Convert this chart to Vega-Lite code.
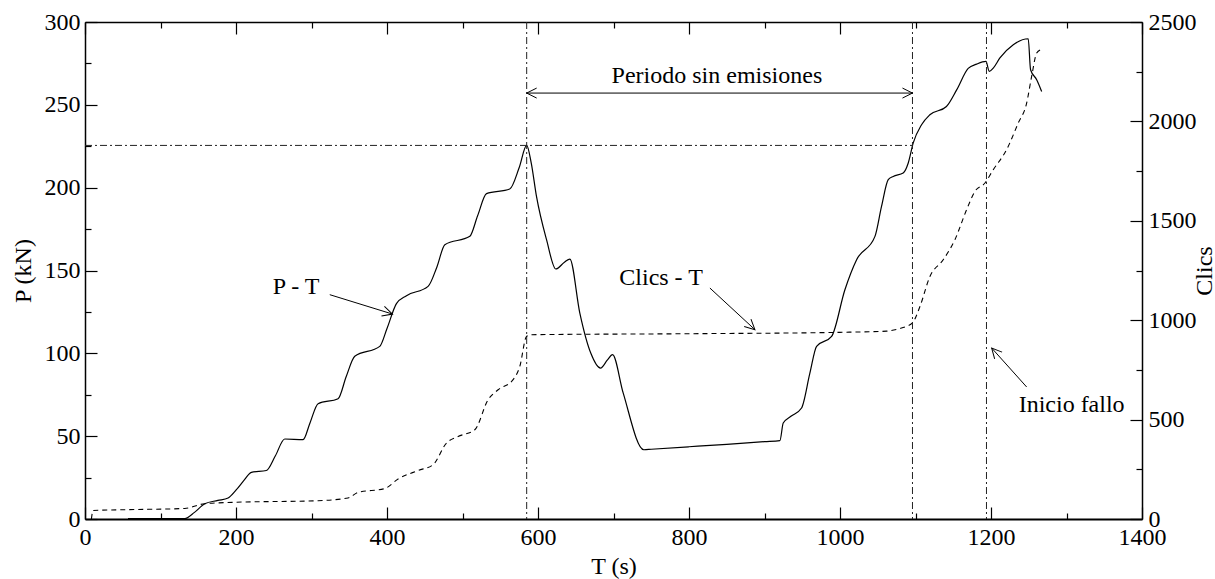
{
  "$schema": "https://vega.github.io/schema/vega-lite/v6.json",
  "width": 1057,
  "height": 497,
  "autosize": "none",
  "padding": {"left": 85, "top": 22, "right": 73, "bottom": 60},
  "background": "white",
  "config": {
    "font": "Liberation Serif, Times New Roman, Times, serif",
    "view": {"stroke": null},
    "axis": {
      "labelFont": "Liberation Serif, Times New Roman, Times, serif",
      "labelFontSize": 24,
      "labelColor": "black",
      "titleFont": "Liberation Serif, Times New Roman, Times, serif",
      "titleFontSize": 24,
      "titleFontWeight": "normal",
      "titleColor": "black",
      "tickColor": "black",
      "domainColor": "black",
      "grid": false,
      "labelFlush": false,
      "labelOverlap": false,
      "format": "d"
    }
  },
  "datasets": {
    "pt": [
      {"T": 57, "P": 0.3}, {"T": 100, "P": 0.3}, {"T": 132, "P": 0.3}, {"T": 145, "P": 4},
      {"T": 158.6, "P": 9.2}, {"T": 176, "P": 11.2}, {"T": 189.5, "P": 12.7}, {"T": 200.5, "P": 17.7},
      {"T": 210, "P": 23}, {"T": 220.4, "P": 28.1}, {"T": 240.3, "P": 29.3}, {"T": 252, "P": 38},
      {"T": 264.6, "P": 48.3}, {"T": 288.8, "P": 47.9}, {"T": 298, "P": 58}, {"T": 308.7, "P": 69.6},
      {"T": 335.2, "P": 72.6}, {"T": 346, "P": 86}, {"T": 357.3, "P": 98.2}, {"T": 390.4, "P": 104.2},
      {"T": 400, "P": 115}, {"T": 412.5, "P": 130}, {"T": 425.8, "P": 134.8}, {"T": 454.4, "P": 140.4},
      {"T": 466, "P": 152}, {"T": 476.6, "P": 165.6}, {"T": 509.7, "P": 170.6}, {"T": 520, "P": 183},
      {"T": 531.8, "P": 196.4}, {"T": 562.6, "P": 199.2}, {"T": 575, "P": 212}, {"T": 585, "P": 225.5},
      {"T": 591, "P": 215}, {"T": 598, "P": 194.7}, {"T": 611.3, "P": 168.6}, {"T": 623.6, "P": 150.9},
      {"T": 635, "P": 155}, {"T": 642.2, "P": 156.9}, {"T": 655.4, "P": 124.3}, {"T": 670, "P": 100},
      {"T": 682.8, "P": 91.1}, {"T": 692, "P": 96}, {"T": 698.7, "P": 99.2}, {"T": 712.8, "P": 76.1},
      {"T": 740.2, "P": 41.8}, {"T": 750, "P": 42.1}, {"T": 800, "P": 43.6}, {"T": 850, "P": 45.1},
      {"T": 900, "P": 46.7}, {"T": 920.4, "P": 47.3}, {"T": 924.8, "P": 57.9}, {"T": 935, "P": 62},
      {"T": 949.1, "P": 67}, {"T": 960.1, "P": 88}, {"T": 969, "P": 104.2}, {"T": 988.9, "P": 110.2},
      {"T": 1006.5, "P": 138.4}, {"T": 1022, "P": 156.5}, {"T": 1046.3, "P": 170.6}, {"T": 1055, "P": 188.7},
      {"T": 1063.9, "P": 204.8}, {"T": 1070.5, "P": 206.8}, {"T": 1083.7, "P": 208.8}, {"T": 1090.4, "P": 214.9},
      {"T": 1097, "P": 227}, {"T": 1108, "P": 238}, {"T": 1119, "P": 244}, {"T": 1141, "P": 249},
      {"T": 1154.5, "P": 259}, {"T": 1169.8, "P": 272}, {"T": 1181, "P": 274.6}, {"T": 1193.3, "P": 276.2},
      {"T": 1197.7, "P": 270.2}, {"T": 1203, "P": 272.2}, {"T": 1211.8, "P": 278.3}, {"T": 1229.5, "P": 286.3},
      {"T": 1249.3, "P": 289.9}, {"T": 1252.4, "P": 271.2}, {"T": 1260.5, "P": 265.2}, {"T": 1267.1, "P": 258.1}
    ],
    "clics": [
      {"T": 8.5, "C": 0}, {"T": 10.6, "C": 43}, {"T": 57, "C": 47}, {"T": 132, "C": 53},
      {"T": 158.6, "C": 77}, {"T": 198.3, "C": 84}, {"T": 308.7, "C": 92}, {"T": 348.4, "C": 106},
      {"T": 361.7, "C": 134}, {"T": 397, "C": 153}, {"T": 414.7, "C": 201}, {"T": 441.2, "C": 244},
      {"T": 461, "C": 273}, {"T": 478.8, "C": 382}, {"T": 494.2, "C": 415}, {"T": 516.3, "C": 449},
      {"T": 533.9, "C": 600}, {"T": 547.2, "C": 650}, {"T": 567, "C": 701}, {"T": 575.9, "C": 768},
      {"T": 584.8, "C": 918}, {"T": 591.4, "C": 927}, {"T": 800, "C": 932}, {"T": 1000, "C": 939},
      {"T": 1061.7, "C": 945}, {"T": 1079.3, "C": 958}, {"T": 1088, "C": 969}, {"T": 1096, "C": 986},
      {"T": 1105.9, "C": 1069}, {"T": 1119.1, "C": 1220}, {"T": 1136.7, "C": 1304}, {"T": 1152.2, "C": 1405},
      {"T": 1167.7, "C": 1556}, {"T": 1178.7, "C": 1648}, {"T": 1192, "C": 1690}, {"T": 1203, "C": 1757},
      {"T": 1220.7, "C": 1858}, {"T": 1236.1, "C": 1992}, {"T": 1247.2, "C": 2092}, {"T": 1253.8, "C": 2226},
      {"T": 1260.5, "C": 2344}, {"T": 1265.8, "C": 2361}
    ]
  },
  "layer": [
    {
      "data": {"name": "pt"},
      "mark": {"type": "line", "color": "black", "strokeWidth": 1.2, "interpolate": "monotone"},
      "encoding": {
        "x": {"field": "T", "type": "quantitative", "scale": {"domain": [0, 1400], "nice": false},
          "axis": {"orient": "bottom", "values": [0, 200, 400, 600, 800, 1000, 1200, 1400], "ticks": false, "labelPadding": 6, "domainWidth": 2, "title": "T (s)", "titlePadding": 5}},
        "y": {"field": "P", "type": "quantitative", "scale": {"domain": [0, 300], "nice": false},
          "axis": {"orient": "left", "values": [0, 50, 100, 150, 200, 250, 300], "ticks": false, "labelPadding": 5, "domainWidth": 1.5, "title": "P (kN)", "titlePadding": 9}}
      }
    },
    {
      "data": {"name": "clics"},
      "mark": {"type": "line", "color": "black", "strokeWidth": 1.1, "strokeDash": [5, 4], "interpolate": "monotone"},
      "encoding": {
        "x": {"field": "T", "type": "quantitative",
          "axis": {"orient": "top", "values": [0, 200, 400, 600, 800, 1000, 1200, 1400], "labels": false, "tickSize": -12, "tickWidth": 1.2, "domainWidth": 1.5, "title": null}},
        "y": {"field": "C", "type": "quantitative", "scale": {"domain": [0, 2500], "nice": false},
          "axis": {"orient": "right", "values": [0, 500, 1000, 1500, 2000, 2500], "ticks": false, "labelPadding": 6, "domainWidth": 1.5, "title": "Clics", "titleAngle": 270, "titlePadding": 20}}
      }
    },
    {
      "data": {"name": "pt"},
      "mark": {"type": "point", "opacity": 0},
      "encoding": {
        "x": {"field": "T", "type": "quantitative",
          "axis": {"orient": "bottom", "values": [0, 200, 400, 600, 800, 1000, 1200, 1400], "labels": false, "domain": false, "tickSize": -12, "tickWidth": 1.2, "title": null}},
        "y": {"field": "P", "type": "quantitative", "scale": {"domain": [0, 300], "nice": false},
          "axis": {"orient": "left", "values": [0, 50, 100, 150, 200, 250, 300], "labels": false, "domain": false, "tickSize": -12, "tickWidth": 1.2, "title": null}}
      }
    },
    {
      "data": {"name": "pt"},
      "mark": {"type": "point", "opacity": 0},
      "encoding": {
        "x": {"field": "T", "type": "quantitative",
          "axis": {"orient": "bottom", "values": [100, 300, 500, 700, 900, 1100, 1300], "labels": false, "domain": false, "tickSize": -6, "tickWidth": 1.2, "title": null}},
        "y": {"field": "P", "type": "quantitative", "scale": {"domain": [0, 300], "nice": false},
          "axis": {"orient": "left", "values": [25, 75, 125, 175, 225, 275], "labels": false, "domain": false, "tickSize": -6, "tickWidth": 1.2, "title": null}}
      }
    },
    {
      "data": {"name": "clics"},
      "mark": {"type": "point", "opacity": 0},
      "encoding": {
        "x": {"field": "T", "type": "quantitative",
          "axis": {"orient": "top", "values": [100, 300, 500, 700, 900, 1100, 1300], "labels": false, "domain": false, "tickSize": -6, "tickWidth": 1.2, "title": null}},
        "y": {"field": "C", "type": "quantitative", "scale": {"domain": [0, 2500], "nice": false},
          "axis": {"orient": "right", "values": [0, 500, 1000, 1500, 2000, 2500], "labels": false, "domain": false, "tickSize": -12, "tickWidth": 1.2, "title": null}}
      }
    },
    {
      "data": {"name": "clics"},
      "mark": {"type": "point", "opacity": 0},
      "encoding": {
        "x": {"field": "T", "type": "quantitative", "axis": null},
        "y": {"field": "C", "type": "quantitative", "scale": {"domain": [0, 2500], "nice": false},
          "axis": {"orient": "right", "values": [250, 750, 1250, 1750, 2250], "labels": false, "domain": false, "tickSize": -6, "tickWidth": 1.2, "title": null}}
      }
    },
    {
      "data": {"values": [{"T0": 0, "T1": 1096, "P": 225.5}]},
      "mark": {"type": "rule", "color": "#222", "strokeWidth": 1, "strokeDash": [7, 3, 2, 3]},
      "encoding": {
        "x": {"field": "T0", "type": "quantitative", "axis": null},
        "x2": {"field": "T1"},
        "y": {"field": "P", "type": "quantitative", "scale": {"domain": [0, 300], "nice": false}, "axis": null}
      }
    },
    {
      "data": {"values": [{"T": 585}, {"T": 1096}, {"T": 1194}]},
      "mark": {"type": "rule", "color": "#222", "strokeWidth": 1, "strokeDash": [7, 3, 2, 3]},
      "encoding": {
        "x": {"field": "T", "type": "quantitative", "axis": null}
      }
    },
    {
      "data": {"values": [
        {"T": 585, "P": 257.1, "T2": 1096, "P2": 257.1},
        {"T": 324.2, "P": 135.4, "T2": 407.3, "P2": 123.7},
        {"T": 827.7, "P": 139.4, "T2": 887.3, "P2": 114.3},
        {"T": 1247.2, "P": 79.7, "T2": 1200.9, "P2": 103.2}
      ]},
      "mark": {"type": "rule", "color": "black", "strokeWidth": 1},
      "encoding": {
        "x": {"field": "T", "type": "quantitative", "axis": null},
        "x2": {"field": "T2"},
        "y": {"field": "P", "type": "quantitative", "scale": {"domain": [0, 300], "nice": false}, "axis": null},
        "y2": {"field": "P2"}
      }
    },
    {
      "data": {"values": [
        {"T": 585, "P": 257.1, "ang": 180},
        {"T": 1096, "P": 257.1, "ang": 0},
        {"T": 407.3, "P": 123.7, "ang": 17.1},
        {"T": 887.3, "P": 114.3, "ang": 42.8},
        {"T": 1200.9, "P": 103.2, "ang": 228.1}
      ]},
      "mark": {"type": "point", "shape": "M-1,-0.5L0,0L-1,0.5", "filled": false, "stroke": "black", "strokeWidth": 1, "size": 400, "opacity": 1},
      "encoding": {
        "x": {"field": "T", "type": "quantitative", "axis": null},
        "y": {"field": "P", "type": "quantitative", "scale": {"domain": [0, 300], "nice": false}, "axis": null},
        "angle": {"field": "ang", "type": "quantitative", "scale": null}
      }
    },
    {
      "data": {"values": [
        {"label": "Periodo sin emisiones", "T": 837, "P": 263.2},
        {"label": "P - T", "T": 279.6, "P": 136},
        {"label": "Clics - T", "T": 763, "P": 141},
        {"label": "Inicio fallo", "T": 1306.8, "P": 64.6}
      ]},
      "mark": {"type": "text", "font": "Liberation Serif, Times New Roman, Times, serif", "fontSize": 24, "color": "black", "align": "center", "baseline": "alphabetic"},
      "encoding": {
        "x": {"field": "T", "type": "quantitative", "axis": null},
        "y": {"field": "P", "type": "quantitative", "scale": {"domain": [0, 300], "nice": false}, "axis": null},
        "text": {"field": "label"}
      }
    }
  ],
  "resolve": {"scale": {"y": "independent"}, "axis": {"x": "independent", "y": "independent"}}
}
